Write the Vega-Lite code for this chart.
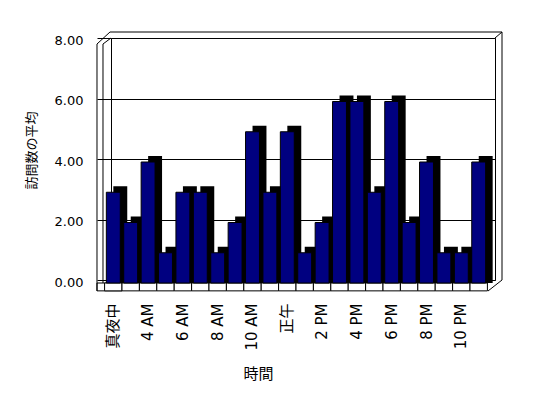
{
  "$schema": "https://vega.github.io/schema/vega-lite/v6.json",
  "width": 384,
  "height": 242,
  "autosize": {"type": "none"},
  "padding": {"left": 111, "top": 38, "right": 53, "bottom": 118},
  "background": "white",
  "config": {"view": {"stroke": "black", "strokeWidth": 1}, "font": "DejaVu Sans", "rule": {"color": "black", "strokeWidth": 1}},
  "data": {"values": [
    {"hour": "真夜中", "visits": 3},
    {"hour": "2 AM", "visits": 2},
    {"hour": "4 AM", "visits": 4},
    {"hour": "5 AM", "visits": 1},
    {"hour": "6 AM", "visits": 3},
    {"hour": "7 AM", "visits": 3},
    {"hour": "8 AM", "visits": 1},
    {"hour": "9 AM", "visits": 2},
    {"hour": "10 AM", "visits": 5},
    {"hour": "11 AM", "visits": 3},
    {"hour": "正午", "visits": 5},
    {"hour": "1 PM", "visits": 1},
    {"hour": "2 PM", "visits": 2},
    {"hour": "3 PM", "visits": 6},
    {"hour": "4 PM", "visits": 6},
    {"hour": "5 PM", "visits": 3},
    {"hour": "6 PM", "visits": 6},
    {"hour": "7 PM", "visits": 2},
    {"hour": "8 PM", "visits": 4},
    {"hour": "9 PM", "visits": 1},
    {"hour": "10 PM", "visits": 1},
    {"hour": "11 PM", "visits": 4}
  ]},
  "encoding": {
    "x": {
      "field": "hour", "type": "nominal", "sort": null,
      "scale": {"paddingInner": 0, "paddingOuter": 0.034},
      "axis": {
        "values": ["真夜中", "4 AM", "6 AM", "8 AM", "10 AM", "正午", "2 PM", "4 PM", "6 PM", "8 PM", "10 PM"],
        "domain": false, "ticks": false,
        "labelAngle": -90, "labelAlign": "right", "labelBaseline": "middle",
        "labelPadding": 23, "labelOffset": -7,
        "labelFont": "DejaVu Sans, Noto Sans CJK JP", "labelFontSize": 15, "labelColor": "black",
        "title": "時間", "titleX": 147, "titleY": 93, "titleAlign": "center", "titleBaseline": "middle",
        "titleFont": "Noto Sans CJK JP", "titleFontSize": 15, "titleFontWeight": "normal", "titleColor": "black"
      }
    }
  },
  "layer": [
    {
      "data": {"values": [{}]},
      "mark": {"type": "bar", "width": 25, "xOffset": -10.8, "yOffset": 3, "y2Offset": 3, "fill": "white", "stroke": "black", "strokeWidth": 1},
      "encoding": {
        "x": {"datum": "真夜中", "type": "nominal"},
        "y": {"datum": 0, "type": "quantitative", "scale": {"domain": [0, 8], "nice": false, "zero": false},
          "axis": {"values": [0, 2, 4, 6, 8], "format": ".2f", "grid": true, "gridColor": "black", "gridWidth": 1, "gridOpacity": 1, "ticks": true, "tickSize": 14, "tickColor": "black", "tickWidth": 1, "domain": false, "labelPadding": 14, "labelOffset": 2, "labelFont": "DejaVu Sans", "labelFontSize": 13, "labelColor": "black", "title": "訪問数の平均", "titleX": -80, "titleY": 112, "titleAngle": 270, "titleAlign": "center", "titleBaseline": "middle", "titleFont": "Noto Sans CJK JP", "titleFontSize": 13, "titleFontWeight": "normal", "titleColor": "black"}},
        "y2": {"datum": -0.26}
      }
    },
    {
      "mark": {"type": "bar", "width": {"band": 1}, "xOffset": -7, "yOffset": 3, "y2Offset": 3, "fill": "white", "stroke": "black", "strokeWidth": 1},
      "encoding": {
        "y": {"datum": 0, "type": "quantitative"},
        "y2": {"datum": -0.26}
      }
    },
    {
      "mark": {"type": "bar", "width": {"band": 0.8}, "xOffset": 0, "yOffset": -3, "y2Offset": 3, "fill": "black"},
      "encoding": {
        "y": {"field": "visits", "type": "quantitative"},
        "y2": {"datum": 0}
      }
    },
    {
      "mark": {"type": "bar", "width": {"band": 0.8}, "xOffset": -7, "yOffset": 3, "y2Offset": 3, "fill": "#000080", "stroke": "black", "strokeWidth": 1},
      "encoding": {
        "y": {"field": "visits", "type": "quantitative"},
        "y2": {"datum": 0}
      }
    },
    {
      "data": {"values": [{}]},
      "mark": {"type": "rule", "xOffset": -23.3, "yOffset": 6, "y2Offset": 11},
      "encoding": {"x": {"datum": "真夜中", "type": "nominal"}, "y": {"datum": 8, "type": "quantitative"}, "y2": {"datum": 0}}
    },
    {
      "data": {"values": [{}]},
      "mark": {"type": "rule", "xOffset": -17.3, "yOffset": 6, "y2Offset": 3},
      "encoding": {"x": {"datum": "真夜中", "type": "nominal"}, "y": {"datum": 8, "type": "quantitative"}, "y2": {"datum": 0}}
    },
    {
      "data": {"values": [{}]},
      "mark": {"type": "rule", "xOffset": -23.3, "x2Offset": -10.3, "yOffset": 6, "y2Offset": -6},
      "encoding": {"x": {"datum": "真夜中", "type": "nominal"}, "x2": {"datum": "真夜中"}, "y": {"datum": 8, "type": "quantitative"}, "y2": {"datum": 8}}
    },
    {
      "data": {"values": [{}]},
      "mark": {"type": "rule", "xOffset": -17.3, "x2Offset": -9.3, "yOffset": 6, "y2Offset": 0},
      "encoding": {"x": {"datum": "真夜中", "type": "nominal"}, "x2": {"datum": "真夜中"}, "y": {"datum": 8, "type": "quantitative"}, "y2": {"datum": 8}}
    },
    {
      "data": {"values": [{}]},
      "mark": {"type": "rule", "xOffset": -10.3, "x2Offset": 16.3, "yOffset": -6},
      "encoding": {"x": {"datum": "真夜中", "type": "nominal"}, "x2": {"datum": "11 PM"}, "y": {"datum": 8, "type": "quantitative"}}
    },
    {
      "data": {"values": [{}]},
      "mark": {"type": "rule", "xOffset": 16.3, "yOffset": -6, "y2Offset": 0},
      "encoding": {"x": {"datum": "11 PM", "type": "nominal"}, "y": {"datum": 8, "type": "quantitative"}, "y2": {"datum": 0}}
    },
    {
      "data": {"values": [{}]},
      "mark": {"type": "rule", "xOffset": 9.3, "x2Offset": 16.3, "yOffset": 0, "y2Offset": -6},
      "encoding": {"x": {"datum": "11 PM", "type": "nominal"}, "x2": {"datum": "11 PM"}, "y": {"datum": 8, "type": "quantitative"}, "y2": {"datum": 8}}
    },
    {
      "data": {"values": [{}]},
      "mark": {"type": "rule", "xOffset": 2.3, "x2Offset": 16.3, "yOffset": 11, "y2Offset": 0},
      "encoding": {"x": {"datum": "11 PM", "type": "nominal"}, "x2": {"datum": "11 PM"}, "y": {"datum": 0, "type": "quantitative"}, "y2": {"datum": 0}}
    }
  ]
}
